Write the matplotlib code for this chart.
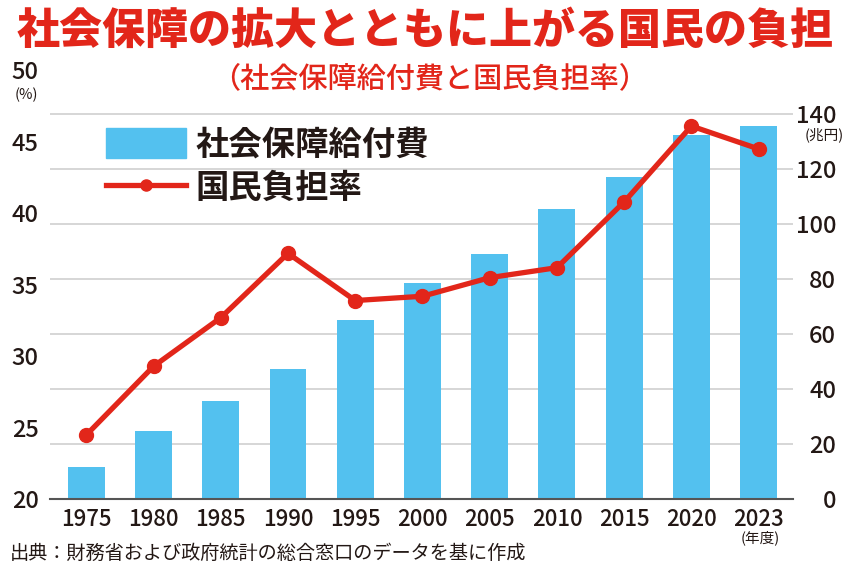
import matplotlib
matplotlib.use('Agg')
import matplotlib.pyplot as plt
from matplotlib.patches import Patch
from matplotlib.lines import Line2D

plt.rcParams['font.family'] = ['Noto Sans CJK JP', 'DejaVu Sans']

years = ['1975', '1980', '1985', '1990', '1995', '2000', '2005', '2010', '2015', '2020', '2023']
benefits = [11.8, 24.9, 35.7, 47.4, 65.0, 78.4, 88.9, 105.4, 116.9, 132.2, 135.5]   # 兆円
burden = [24.5, 29.3, 32.7, 37.2, 33.9, 34.2, 35.5, 36.2, 40.8, 46.1, 44.5]          # %
right_ticks = [0, 20, 40, 60, 80, 100, 120, 140]
left_ticks = [20, 25, 30, 35, 40, 45, 50]

RED = '#e2261a'
BLUE = '#53c1ef'
TXT = '#231815'

fig = plt.figure(figsize=(8.5, 5.73), dpi=100)
ax = fig.add_axes([0.0588, 0.1286, 0.8741, 0.7487])
ax2 = ax.twinx()

x = list(range(len(years)))

# bars on the right scale
ax.bar(x, benefits, width=0.55, color=BLUE, zorder=2)
ax.set_ylim(0, 155.7)
ax.set_xlim(-0.54, 10.51)
ax.yaxis.tick_right()
ax.set_yticks(right_ticks)
ax.set_yticklabels([str(t) for t in right_ticks], ha='right', fontweight='medium')
ax.tick_params(axis='y', length=0, pad=31, labelsize=17, labelcolor=TXT)
ax.grid(axis='y', color='#d0d0d0', lw=1.2)
ax.set_axisbelow(True)
ax.set_xticks(x)
ax.set_xticklabels(years, fontweight='medium')
ax.tick_params(axis='x', length=0, pad=6, labelsize=16, labelcolor=TXT)
for s in ['top', 'left', 'right']:
    ax.spines[s].set_visible(False)
ax.spines['bottom'].set_color('#555555')
ax.spines['bottom'].set_linewidth(1.5)

# line on the left scale
ax2.plot(x, burden, color=RED, lw=3.8, marker='o', ms=10, zorder=3)
ax2.set_ylim(20, 50)
ax2.yaxis.tick_left()
ax2.set_yticks(left_ticks)
ax2.set_yticklabels([str(t) for t in left_ticks], fontweight='medium')
ax2.tick_params(axis='y', length=0, pad=8, labelsize=17, labelcolor=TXT)
for s in ax2.spines.values():
    s.set_visible(False)

# units
fig.text(0.045, 0.834, '(%)', fontsize=10.5, color=TXT, ha='right', va='center')
fig.text(0.993, 0.764, '(兆円)', fontsize=10.5, color=TXT, ha='right', va='center')
fig.text(0.895, 0.062, '(年度)', fontsize=10.5, color=TXT, ha='center', va='center')

# legend
handles = [Patch(color=BLUE), Line2D([], [], color=RED, lw=3.8, marker='o', ms=8)]
leg = ax.legend(handles, ['社会保障給付費', '国民負担率'], loc='upper left',
                bbox_to_anchor=(0.075, 0.865), frameon=False, fontsize=24,
                handlelength=2.4, handleheight=1.0, labelspacing=0.3,
                handletextpad=0.3, borderpad=0, borderaxespad=0)
for t in leg.get_texts():
    t.set_fontweight('bold')
    t.set_color(TXT)

# titles
fig.text(0.5, 0.945, '社会保障の拡大とともに上がる国民の負担', fontsize=31,
         fontweight='black', color=RED, ha='center', va='center')
fig.text(0.505, 0.862, '（社会保障給付費と国民負担率）', fontsize=21,
         fontweight='medium', color=RED, ha='center', va='center')

fig.text(0.012, 0.035, '出典：財務省および政府統計の総合窓口のデータを基に作成',
         fontsize=13.8, color=TXT, ha='left', va='center')

fig.savefig('out.png', dpi=100)
